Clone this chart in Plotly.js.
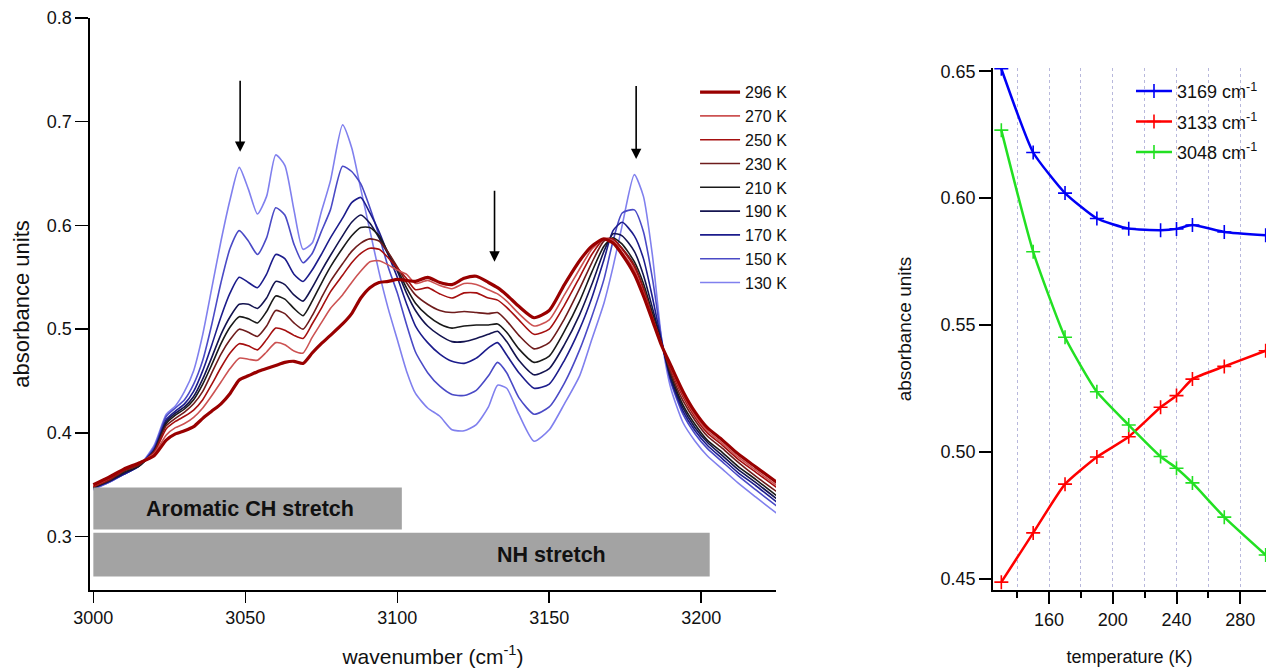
<!DOCTYPE html>
<html><head><meta charset="utf-8">
<script src="https://cdn.plot.ly/plotly-3.0.1.min.js"></script>
<style>html,body{margin:0;padding:0;background:#fff}#chart{width:1273px;height:669px}</style>
</head><body><div id="chart"></div><script>
// ---- left panel: IR spectra ----
const wavenumbers = [3000,3005,3010,3015,3020,3024,3027,3030,3033,3036,3039,3042,3045,3048,3051,3054,3057,3060,3063,3066,3069,3072,3075,3078,3082,3085,3088,3091,3094,3097,3100,3103,3106,3110,3114,3118,3122,3126,3130,3133,3136,3140,3145,3150,3155,3160,3164,3168,3171,3174,3178,3181,3184,3187,3190,3194,3198,3202,3207,3212,3218,3225];
const spec296 = [0.350,0.357,0.365,0.371,0.378,0.393,0.399,0.402,0.406,0.414,0.421,0.428,0.438,0.451,0.455,0.459,0.462,0.465,0.468,0.469,0.467,0.477,0.486,0.494,0.505,0.515,0.530,0.540,0.545,0.546,0.548,0.547,0.546,0.550,0.545,0.543,0.549,0.551,0.545,0.540,0.533,0.522,0.511,0.518,0.543,0.566,0.580,0.587,0.583,0.572,0.553,0.532,0.508,0.484,0.465,0.440,0.420,0.405,0.393,0.380,0.367,0.352];
const spec270 = [0.349,0.356,0.365,0.371,0.380,0.398,0.405,0.409,0.415,0.424,0.436,0.449,0.462,0.472,0.471,0.470,0.478,0.487,0.485,0.479,0.477,0.492,0.506,0.520,0.533,0.545,0.556,0.565,0.566,0.562,0.557,0.553,0.544,0.547,0.542,0.539,0.544,0.543,0.538,0.534,0.527,0.515,0.503,0.509,0.533,0.558,0.577,0.587,0.585,0.574,0.557,0.535,0.510,0.485,0.463,0.437,0.417,0.402,0.390,0.377,0.364,0.349];
const spec250 = [0.348,0.355,0.364,0.370,0.381,0.404,0.411,0.416,0.422,0.432,0.447,0.463,0.477,0.486,0.484,0.480,0.490,0.501,0.499,0.494,0.491,0.505,0.520,0.536,0.552,0.564,0.573,0.578,0.577,0.569,0.559,0.549,0.538,0.540,0.534,0.530,0.535,0.535,0.530,0.528,0.521,0.509,0.495,0.500,0.523,0.550,0.572,0.587,0.587,0.577,0.560,0.538,0.511,0.485,0.461,0.435,0.415,0.400,0.388,0.375,0.362,0.347];
const spec230 = [0.348,0.354,0.363,0.369,0.382,0.407,0.414,0.420,0.428,0.440,0.458,0.476,0.490,0.500,0.497,0.493,0.503,0.518,0.515,0.506,0.500,0.513,0.530,0.546,0.563,0.575,0.583,0.587,0.585,0.574,0.560,0.545,0.533,0.524,0.518,0.516,0.517,0.516,0.515,0.516,0.508,0.494,0.481,0.487,0.510,0.539,0.564,0.585,0.587,0.578,0.562,0.540,0.512,0.485,0.458,0.431,0.412,0.397,0.385,0.372,0.358,0.343];
const spec210 = [0.347,0.354,0.362,0.368,0.382,0.409,0.417,0.423,0.432,0.447,0.466,0.486,0.502,0.512,0.510,0.506,0.517,0.532,0.529,0.520,0.513,0.527,0.544,0.560,0.578,0.590,0.598,0.598,0.590,0.574,0.558,0.540,0.525,0.513,0.505,0.501,0.503,0.504,0.504,0.505,0.497,0.481,0.468,0.474,0.498,0.527,0.555,0.580,0.588,0.582,0.565,0.544,0.515,0.486,0.456,0.427,0.408,0.393,0.381,0.368,0.355,0.339];
const spec190 = [0.347,0.353,0.361,0.368,0.383,0.411,0.419,0.425,0.435,0.452,0.473,0.495,0.512,0.524,0.524,0.520,0.530,0.546,0.543,0.533,0.527,0.540,0.556,0.571,0.590,0.603,0.610,0.602,0.588,0.572,0.556,0.535,0.518,0.503,0.494,0.488,0.488,0.491,0.495,0.498,0.488,0.470,0.456,0.462,0.485,0.514,0.543,0.575,0.592,0.590,0.575,0.552,0.520,0.487,0.453,0.424,0.405,0.391,0.378,0.365,0.352,0.336];
const spec170 = [0.347,0.353,0.360,0.368,0.384,0.413,0.421,0.428,0.440,0.460,0.485,0.512,0.535,0.550,0.545,0.540,0.553,0.572,0.568,0.553,0.546,0.557,0.572,0.588,0.607,0.622,0.627,0.612,0.594,0.572,0.550,0.525,0.503,0.487,0.476,0.469,0.467,0.472,0.482,0.487,0.475,0.458,0.443,0.447,0.470,0.500,0.530,0.567,0.595,0.603,0.590,0.568,0.530,0.488,0.451,0.421,0.402,0.388,0.375,0.362,0.349,0.333];
const spec150 = [0.346,0.352,0.360,0.368,0.386,0.416,0.424,0.432,0.447,0.470,0.505,0.545,0.578,0.595,0.585,0.572,0.588,0.617,0.610,0.582,0.564,0.573,0.594,0.615,0.657,0.652,0.640,0.617,0.590,0.560,0.535,0.505,0.478,0.458,0.445,0.437,0.436,0.441,0.455,0.468,0.458,0.434,0.418,0.425,0.448,0.480,0.512,0.548,0.585,0.612,0.615,0.594,0.548,0.490,0.449,0.418,0.399,0.385,0.372,0.359,0.345,0.329];
const spec130 = [0.345,0.352,0.360,0.368,0.388,0.418,0.426,0.440,0.460,0.495,0.540,0.585,0.625,0.656,0.635,0.611,0.628,0.668,0.658,0.615,0.577,0.583,0.613,0.643,0.697,0.675,0.635,0.595,0.555,0.520,0.490,0.460,0.438,0.424,0.416,0.403,0.402,0.408,0.425,0.446,0.443,0.418,0.392,0.403,0.428,0.455,0.490,0.525,0.560,0.600,0.649,0.628,0.570,0.490,0.443,0.410,0.392,0.378,0.365,0.352,0.338,0.322];
const spectraLabels = ['130 K','150 K','170 K','190 K','210 K','230 K','250 K','270 K','296 K'];

// arrow and band-marker data (left panel)
const arrowWavenumbers = [3048.3, 3132, 3178.6];
const arrowTipY = [0.671, 0.565, 0.664];
const arrowTailY = [0.741, 0.635, 0.736];
const bandLabels = ['Aromatic CH stretch', 'NH stretch'];
const bandStart = [3000, 3000];
const bandEnd = [3101.5, 3202.8];
const bandTop = [0.3473, 0.3036];
const bandBottom = [0.3068, 0.2615];
const bandLabelX = [3051.5, 3150.8];

// ---- right panel: absorbance vs temperature ----
const temperatures = [130,150,170,190,210,230,240,250,270,296];
const abs3169 = [0.651,0.618,0.602,0.592,0.588,0.5874,0.5879,0.5894,0.5867,0.5854];
const abs3133 = [0.4487,0.4681,0.4873,0.498,0.506,0.5176,0.5222,0.5287,0.5337,0.5399];
const abs3048 = [0.6268,0.5789,0.5452,0.5237,0.5106,0.4982,0.4936,0.4878,0.4743,0.4594];
const bandNames = ['3169 cm<sup>-1</sup>','3133 cm<sup>-1</sup>','3048 cm<sup>-1</sup>'];

const FONT = 'Liberation Sans, Arial, Helvetica, sans-serif';
const spectra = [spec130,spec150,spec170,spec190,spec210,spec230,spec250,spec270,spec296];
const specColors = ['#8080ee','#4a4ac6','#1c1c8c','#141450','#1a1a1a','#6e1c1c','#a50f0f','#cc5252','#990000'];
const specWidths = [1.6,1.6,1.6,1.6,1.6,1.6,1.6,1.6,3.2];

const traces = [];
spectra.forEach((s,i)=>{
  traces.push({x:wavenumbers, y:s, type:'scatter', mode:'lines', name:spectraLabels[i],
    line:{color:specColors[i], width:specWidths[i], shape:'spline', smoothing:0.6},
    xaxis:'x', yaxis:'y', legend:'legend', hoverinfo:'skip'});
});
const tSeries = [abs3169, abs3133, abs3048];
const tColors = ['#0000f5','#ff0000','#22e022'];
tSeries.forEach((s,i)=>{
  traces.push({x:temperatures, y:s, type:'scatter', mode:'lines+markers', name:bandNames[i],
    line:{color:tColors[i], width:2.5, shape:'spline', smoothing:0.5},
    marker:{symbol:'cross-thin', size:10, line:{width:1.6, color:tColors[i]}, color:tColors[i]},
    xaxis:'x2', yaxis:'y2', legend:'legend2', legendgroup:'g'+i, hoverinfo:'skip'});
});

const shapes = [];
const annotations = [];
bandLabels.forEach((lab,i)=>{
  shapes.push({type:'rect', xref:'x', yref:'y', x0:bandStart[i], x1:bandEnd[i], y0:bandBottom[i], y1:bandTop[i],
    fillcolor:'#a3a3a3', line:{width:0}, layer:'above'});
  annotations.push({xref:'x', yref:'y', x:bandLabelX[i], y:(bandTop[i]+bandBottom[i])/2, text:'<b>'+lab+'</b>',
    showarrow:false, font:{family:FONT, size:21.5, color:'#111'}, xanchor:'center', yanchor:'middle'});
});
arrowWavenumbers.forEach((w,i)=>{
  annotations.push({xref:'x', yref:'y', x:w, y:arrowTipY[i], ax:w, ay:arrowTailY[i], axref:'x', ayref:'y',
    text:'', showarrow:true, arrowhead:2, arrowsize:1.3, arrowwidth:1.6, arrowcolor:'#000'});
});

const axBase = {showgrid:false, zeroline:false, showline:true, linecolor:'#000', ticks:'outside',
  tickcolor:'#000', automargin:false, fixedrange:true};
const layout = {
  width:1273, height:669, paper_bgcolor:'#fff', plot_bgcolor:'#fff',
  margin:{l:90, r:7, t:18, b:79},
  font:{family:FONT, color:'#111'},
  showlegend:true,
  xaxis: Object.assign({}, axBase, {domain:[0,0.5833], range:[2998.9,3224.6], tickmode:'linear', tick0:3000, dtick:50,
    linewidth:1.6, ticklen:11, tickwidth:1.5, tickfont:{family:FONT, size:18, color:'#111'}, anchor:'y',
    title:{text:'wavenumber (cm<sup>-1</sup>)', font:{family:FONT, size:21, color:'#111'}, standoff:22}}),
  yaxis: Object.assign({}, axBase, {domain:[0,1], range:[0.2485,0.8], tickmode:'linear', tick0:0.3, dtick:0.1,
    tickformat:'.1f', linewidth:1.6, ticklen:13, tickwidth:1.5, tickfont:{family:FONT, size:18, color:'#111'}, anchor:'x',
    title:{text:'absorbance units', font:{family:FONT, size:22, color:'#111'}, standoff:11}}),
  xaxis2: Object.assign({}, axBase, {domain:[0.7679,1], range:[124.8,296.2], tickmode:'linear', tick0:0, dtick:40,
    linewidth:2, ticklen:12, tickwidth:2, tickfont:{family:FONT, size:18, color:'#111'}, anchor:'y2',
    showgrid:true, gridcolor:'#b8b8dc', griddash:'dot', gridwidth:1,
    minor:{dtick:20, tick0:0, ticks:'outside', ticklen:6, tickwidth:2, tickcolor:'#000', showgrid:true, gridcolor:'#b8b8dc', griddash:'dot', gridwidth:1},
    title:{text:'temperature (K)', font:{family:FONT, size:18, color:'#111'}, standoff:22}}),
  yaxis2: Object.assign({}, axBase, {domain:[0,0.9126], range:[0.4456,0.6513], tickmode:'linear', tick0:0.45, dtick:0.05,
    tickformat:'.2f', linewidth:2, ticklen:12, tickwidth:2, tickfont:{family:FONT, size:18, color:'#111'}, anchor:'x2',
    title:{text:'absorbance units', font:{family:FONT, size:19, color:'#111'}, standoff:24}}),
  legend:{x:0.5145, y:0.9, xanchor:'left', yanchor:'top', traceorder:'reversed', bgcolor:'rgba(255,255,255,0)',
    font:{family:FONT, size:16, color:'#111'}, itemwidth:40, tracegroupgap:0},
  legend2:{x:0.8852, y:0.904, xanchor:'left', yanchor:'top', traceorder:'grouped', bgcolor:'rgba(255,255,255,0)',
    font:{family:FONT, size:18, color:'#111'}, itemwidth:36, tracegroupgap:4},
  shapes:shapes, annotations:annotations
};
Plotly.newPlot('chart', traces, layout, {staticPlot:true, displayModeBar:false});
</script></body></html>
